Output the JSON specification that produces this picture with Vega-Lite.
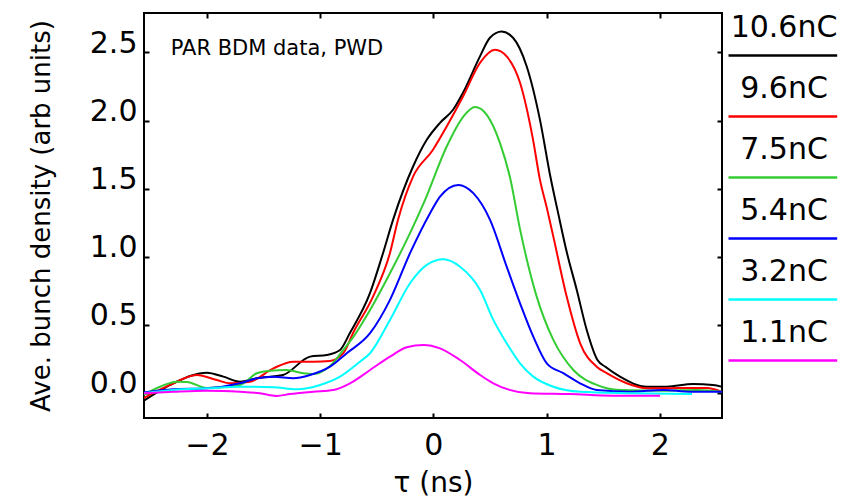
{
  "$schema": "https://vega.github.io/schema/vega-lite/v6.json",
  "autosize": {"type": "none"},
  "width": 578,
  "height": 405,
  "padding": {"left": 144, "top": 13, "right": 142, "bottom": 81},
  "background": "white",
  "config": {
    "view": {"stroke": "black", "strokeWidth": 2},
    "font": "DejaVu Sans",
    "axis": {"grid": false, "domain": false, "tickColor": "black", "tickWidth": 2, "labelColor": "black", "titleColor": "black", "labelFont": "DejaVu Sans", "titleFont": "DejaVu Sans", "titleFontWeight": "normal"}
  },
  "datasets": {
    "curves": [
      {"q": "10.6nC", "t": -2.56, "v": -0.06},
      {"q": "10.6nC", "t": -2.297, "v": 0.069},
      {"q": "10.6nC", "t": -2.0, "v": 0.147},
      {"q": "10.6nC", "t": -1.855, "v": 0.118},
      {"q": "10.6nC", "t": -1.708, "v": 0.081},
      {"q": "10.6nC", "t": -1.56, "v": 0.106},
      {"q": "10.6nC", "t": -1.328, "v": 0.13},
      {"q": "10.6nC", "t": -1.089, "v": 0.265},
      {"q": "10.6nC", "t": -0.942, "v": 0.277},
      {"q": "10.6nC", "t": -0.824, "v": 0.314},
      {"q": "10.6nC", "t": -0.736, "v": 0.44},
      {"q": "10.6nC", "t": -0.559, "v": 0.733},
      {"q": "10.6nC", "t": -0.444, "v": 1.027},
      {"q": "10.6nC", "t": -0.356, "v": 1.27},
      {"q": "10.6nC", "t": -0.179, "v": 1.662},
      {"q": "10.6nC", "t": -0.058, "v": 1.858},
      {"q": "10.6nC", "t": 0.059, "v": 1.983},
      {"q": "10.6nC", "t": 0.174, "v": 2.079},
      {"q": "10.6nC", "t": 0.262, "v": 2.204},
      {"q": "10.6nC", "t": 0.412, "v": 2.471},
      {"q": "10.6nC", "t": 0.5, "v": 2.608},
      {"q": "10.6nC", "t": 0.604, "v": 2.654},
      {"q": "10.6nC", "t": 0.704, "v": 2.608},
      {"q": "10.6nC", "t": 0.825, "v": 2.397},
      {"q": "10.6nC", "t": 0.942, "v": 2.005},
      {"q": "10.6nC", "t": 1.031, "v": 1.6},
      {"q": "10.6nC", "t": 1.104, "v": 1.314},
      {"q": "10.6nC", "t": 1.178, "v": 1.035},
      {"q": "10.6nC", "t": 1.267, "v": 0.755},
      {"q": "10.6nC", "t": 1.355, "v": 0.461},
      {"q": "10.6nC", "t": 1.45, "v": 0.24},
      {"q": "10.6nC", "t": 1.52, "v": 0.19},
      {"q": "10.6nC", "t": 1.649, "v": 0.118},
      {"q": "10.6nC", "t": 1.885, "v": 0.044},
      {"q": "10.6nC", "t": 2.062, "v": 0.044},
      {"q": "10.6nC", "t": 2.294, "v": 0.064},
      {"q": "10.6nC", "t": 2.471, "v": 0.057},
      {"q": "10.6nC", "t": 2.55, "v": 0.044},

      {"q": "9.6nC", "t": -2.563, "v": -0.041},
      {"q": "9.6nC", "t": -2.326, "v": 0.057},
      {"q": "9.6nC", "t": -2.09, "v": 0.13},
      {"q": "9.6nC", "t": -1.913, "v": 0.093},
      {"q": "9.6nC", "t": -1.796, "v": 0.069},
      {"q": "9.6nC", "t": -1.619, "v": 0.081},
      {"q": "9.6nC", "t": -1.413, "v": 0.179},
      {"q": "9.6nC", "t": -1.237, "v": 0.228},
      {"q": "9.6nC", "t": -1.06, "v": 0.228},
      {"q": "9.6nC", "t": -0.913, "v": 0.233},
      {"q": "9.6nC", "t": -0.795, "v": 0.29},
      {"q": "9.6nC", "t": -0.709, "v": 0.439},
      {"q": "9.6nC", "t": -0.533, "v": 0.706},
      {"q": "9.6nC", "t": -0.383, "v": 1.027},
      {"q": "9.6nC", "t": -0.312, "v": 1.27},
      {"q": "9.6nC", "t": -0.179, "v": 1.588},
      {"q": "9.6nC", "t": -0.003, "v": 1.785},
      {"q": "9.6nC", "t": 0.118, "v": 1.956},
      {"q": "9.6nC", "t": 0.262, "v": 2.176},
      {"q": "9.6nC", "t": 0.412, "v": 2.424},
      {"q": "9.6nC", "t": 0.545, "v": 2.52},
      {"q": "9.6nC", "t": 0.648, "v": 2.471},
      {"q": "9.6nC", "t": 0.766, "v": 2.277},
      {"q": "9.6nC", "t": 0.881, "v": 1.858},
      {"q": "9.6nC", "t": 0.942, "v": 1.564},
      {"q": "9.6nC", "t": 1.002, "v": 1.36},
      {"q": "9.6nC", "t": 1.06, "v": 1.147},
      {"q": "9.6nC", "t": 1.178, "v": 0.706},
      {"q": "9.6nC", "t": 1.296, "v": 0.365},
      {"q": "9.6nC", "t": 1.443, "v": 0.191},
      {"q": "9.6nC", "t": 1.532, "v": 0.143},
      {"q": "9.6nC", "t": 1.708, "v": 0.069},
      {"q": "9.6nC", "t": 1.885, "v": 0.032},
      {"q": "9.6nC", "t": 2.179, "v": 0.035},
      {"q": "9.6nC", "t": 2.415, "v": 0.035},
      {"q": "9.6nC", "t": 2.55, "v": 0.007},

      {"q": "7.5nC", "t": -2.563, "v": -0.017},
      {"q": "7.5nC", "t": -2.414, "v": 0.044},
      {"q": "7.5nC", "t": -2.267, "v": 0.081},
      {"q": "7.5nC", "t": -2.178, "v": 0.079},
      {"q": "7.5nC", "t": -2.002, "v": 0.035},
      {"q": "7.5nC", "t": -1.708, "v": 0.057},
      {"q": "7.5nC", "t": -1.56, "v": 0.143},
      {"q": "7.5nC", "t": -1.443, "v": 0.162},
      {"q": "7.5nC", "t": -1.295, "v": 0.167},
      {"q": "7.5nC", "t": -1.148, "v": 0.143},
      {"q": "7.5nC", "t": -1.06, "v": 0.138},
      {"q": "7.5nC", "t": -0.913, "v": 0.196},
      {"q": "7.5nC", "t": -0.795, "v": 0.314},
      {"q": "7.5nC", "t": -0.707, "v": 0.41},
      {"q": "7.5nC", "t": -0.559, "v": 0.608},
      {"q": "7.5nC", "t": -0.383, "v": 0.878},
      {"q": "7.5nC", "t": -0.206, "v": 1.172},
      {"q": "7.5nC", "t": -0.073, "v": 1.417},
      {"q": "7.5nC", "t": 0.118, "v": 1.809},
      {"q": "7.5nC", "t": 0.265, "v": 2.029},
      {"q": "7.5nC", "t": 0.368, "v": 2.099},
      {"q": "7.5nC", "t": 0.472, "v": 2.042},
      {"q": "7.5nC", "t": 0.589, "v": 1.834},
      {"q": "7.5nC", "t": 0.678, "v": 1.579},
      {"q": "7.5nC", "t": 0.766, "v": 1.2},
      {"q": "7.5nC", "t": 0.913, "v": 0.706},
      {"q": "7.5nC", "t": 1.06, "v": 0.388},
      {"q": "7.5nC", "t": 1.237, "v": 0.167},
      {"q": "7.5nC", "t": 1.443, "v": 0.057},
      {"q": "7.5nC", "t": 1.649, "v": 0.02},
      {"q": "7.5nC", "t": 2.032, "v": 0.015},
      {"q": "7.5nC", "t": 2.327, "v": 0.02},
      {"q": "7.5nC", "t": 2.55, "v": 0.007},

      {"q": "5.4nC", "t": -2.563, "v": 0.0},
      {"q": "5.4nC", "t": -2.297, "v": 0.025},
      {"q": "5.4nC", "t": -2.002, "v": 0.032},
      {"q": "5.4nC", "t": -1.708, "v": 0.069},
      {"q": "5.4nC", "t": -1.56, "v": 0.106},
      {"q": "5.4nC", "t": -1.413, "v": 0.118},
      {"q": "5.4nC", "t": -1.237, "v": 0.106},
      {"q": "5.4nC", "t": -1.089, "v": 0.13},
      {"q": "5.4nC", "t": -0.913, "v": 0.191},
      {"q": "5.4nC", "t": -0.765, "v": 0.29},
      {"q": "5.4nC", "t": -0.559, "v": 0.437},
      {"q": "5.4nC", "t": -0.383, "v": 0.682},
      {"q": "5.4nC", "t": -0.206, "v": 1.025},
      {"q": "5.4nC", "t": -0.029, "v": 1.319},
      {"q": "5.4nC", "t": 0.059, "v": 1.441},
      {"q": "5.4nC", "t": 0.221, "v": 1.527},
      {"q": "5.4nC", "t": 0.353, "v": 1.466},
      {"q": "5.4nC", "t": 0.501, "v": 1.27},
      {"q": "5.4nC", "t": 0.648, "v": 0.926},
      {"q": "5.4nC", "t": 0.766, "v": 0.657},
      {"q": "5.4nC", "t": 0.883, "v": 0.412},
      {"q": "5.4nC", "t": 1.002, "v": 0.216},
      {"q": "5.4nC", "t": 1.148, "v": 0.143},
      {"q": "5.4nC", "t": 1.296, "v": 0.069},
      {"q": "5.4nC", "t": 1.443, "v": 0.02},
      {"q": "5.4nC", "t": 1.738, "v": 0.007},
      {"q": "5.4nC", "t": 2.032, "v": 0.02},
      {"q": "5.4nC", "t": 2.268, "v": 0.007},
      {"q": "5.4nC", "t": 2.55, "v": 0.007},

      {"q": "3.2nC", "t": -2.563, "v": -0.004},
      {"q": "3.2nC", "t": -2.297, "v": 0.02},
      {"q": "3.2nC", "t": -2.002, "v": 0.032},
      {"q": "3.2nC", "t": -1.708, "v": 0.044},
      {"q": "3.2nC", "t": -1.413, "v": 0.04},
      {"q": "3.2nC", "t": -1.207, "v": 0.025},
      {"q": "3.2nC", "t": -1.001, "v": 0.057},
      {"q": "3.2nC", "t": -0.824, "v": 0.118},
      {"q": "3.2nC", "t": -0.648, "v": 0.228},
      {"q": "3.2nC", "t": -0.559, "v": 0.29},
      {"q": "3.2nC", "t": -0.383, "v": 0.535},
      {"q": "3.2nC", "t": -0.206, "v": 0.804},
      {"q": "3.2nC", "t": -0.058, "v": 0.939},
      {"q": "3.2nC", "t": 0.088, "v": 0.981},
      {"q": "3.2nC", "t": 0.236, "v": 0.926},
      {"q": "3.2nC", "t": 0.413, "v": 0.755},
      {"q": "3.2nC", "t": 0.53, "v": 0.535},
      {"q": "3.2nC", "t": 0.648, "v": 0.363},
      {"q": "3.2nC", "t": 0.766, "v": 0.216},
      {"q": "3.2nC", "t": 0.883, "v": 0.118},
      {"q": "3.2nC", "t": 1.06, "v": 0.044},
      {"q": "3.2nC", "t": 1.296, "v": 0.007},
      {"q": "3.2nC", "t": 1.738, "v": -0.004},
      {"q": "3.2nC", "t": 2.285, "v": -0.01},

      {"q": "1.1nC", "t": -2.563, "v": -0.004},
      {"q": "1.1nC", "t": -2.297, "v": 0.007},
      {"q": "1.1nC", "t": -2.002, "v": 0.015},
      {"q": "1.1nC", "t": -1.708, "v": 0.007},
      {"q": "1.1nC", "t": -1.531, "v": -0.004},
      {"q": "1.1nC", "t": -1.383, "v": -0.024},
      {"q": "1.1nC", "t": -1.266, "v": -0.01},
      {"q": "1.1nC", "t": -1.06, "v": 0.007},
      {"q": "1.1nC", "t": -0.883, "v": 0.02},
      {"q": "1.1nC", "t": -0.736, "v": 0.069},
      {"q": "1.1nC", "t": -0.559, "v": 0.167},
      {"q": "1.1nC", "t": -0.383, "v": 0.265},
      {"q": "1.1nC", "t": -0.235, "v": 0.334},
      {"q": "1.1nC", "t": -0.088, "v": 0.351},
      {"q": "1.1nC", "t": 0.059, "v": 0.326},
      {"q": "1.1nC", "t": 0.236, "v": 0.24},
      {"q": "1.1nC", "t": 0.413, "v": 0.13},
      {"q": "1.1nC", "t": 0.53, "v": 0.069},
      {"q": "1.1nC", "t": 0.854, "v": -0.004},
      {"q": "1.1nC", "t": 1.207, "v": -0.01},
      {"q": "1.1nC", "t": 1.59, "v": -0.022},
      {"q": "1.1nC", "t": 2.003, "v": -0.022}
    ],
    "notes": [
      {"t": -2.32, "v": 2.48, "label": "PAR BDM data, PWD"}
    ]
  },
  "layer": [
    {
      "data": {"name": "curves"},
      "mark": {"type": "line", "strokeWidth": 2, "interpolate": "monotone", "clip": true},
      "encoding": {
        "x": {"field": "t", "type": "quantitative", "scale": {"domain": [-2.556, 2.55], "nice": false, "zero": false},
              "axis": {"orient": "bottom", "title": "τ (ns)", "titleFontSize": 28, "titlePadding": 9, "values": [-2, -1, 0, 1, 2], "format": "d", "labelFontSize": 30, "tickSize": -5, "labelPadding": 17}},
        "y": {"field": "v", "type": "quantitative", "scale": {"domain": [-0.186, 2.79], "nice": false, "zero": false},
              "axis": {"orient": "left", "title": "Ave. bunch density (arb units)", "titleFontSize": 26, "titlePadding": 35, "values": [0, 0.5, 1, 1.5, 2, 2.5], "format": ".1f", "labelFontSize": 30, "labelBaseline": "alphabetic", "tickSize": -5, "labelPadding": 12}},
        "color": {"field": "q", "type": "nominal",
                  "scale": {"domain": ["10.6nC", "9.6nC", "7.5nC", "5.4nC", "3.2nC", "1.1nC"], "range": ["#000000", "#ff0000", "#33cc33", "#0000ff", "#00ffff", "#ff00ff"]},
                  "legend": {"title": null, "orient": "right", "offset": -8, "padding": 12, "symbolType": "stroke", "symbolSize": 11881, "symbolStrokeWidth": 2.5, "clipHeight": 60.8, "rowPadding": -12.4, "labelFont": "DejaVu Sans", "labelFontSize": 30, "labelColor": "black", "labelAlign": "center", "labelOffset": -55, "labelBaseline": "alphabetic", "labelLimit": 0, "encode": {"labels": {"update": {"dy": {"value": -18}}}}}}
      }
    },
    {
      "data": {"name": "notes"},
      "mark": {"type": "text", "align": "left", "baseline": "alphabetic", "font": "DejaVu Sans", "fontSize": 21, "color": "black"},
      "encoding": {
        "x": {"field": "t", "type": "quantitative", "axis": {"orient": "top", "title": null, "labels": false, "values": [-2, -1, 0, 1, 2], "tickSize": -5}},
        "y": {"field": "v", "type": "quantitative", "axis": {"orient": "right", "title": null, "labels": false, "values": [0, 0.5, 1, 1.5, 2, 2.5], "tickSize": -5}},
        "text": {"field": "label"}
      }
    }
  ],
  "resolve": {"axis": {"x": "independent", "y": "independent"}}
}
